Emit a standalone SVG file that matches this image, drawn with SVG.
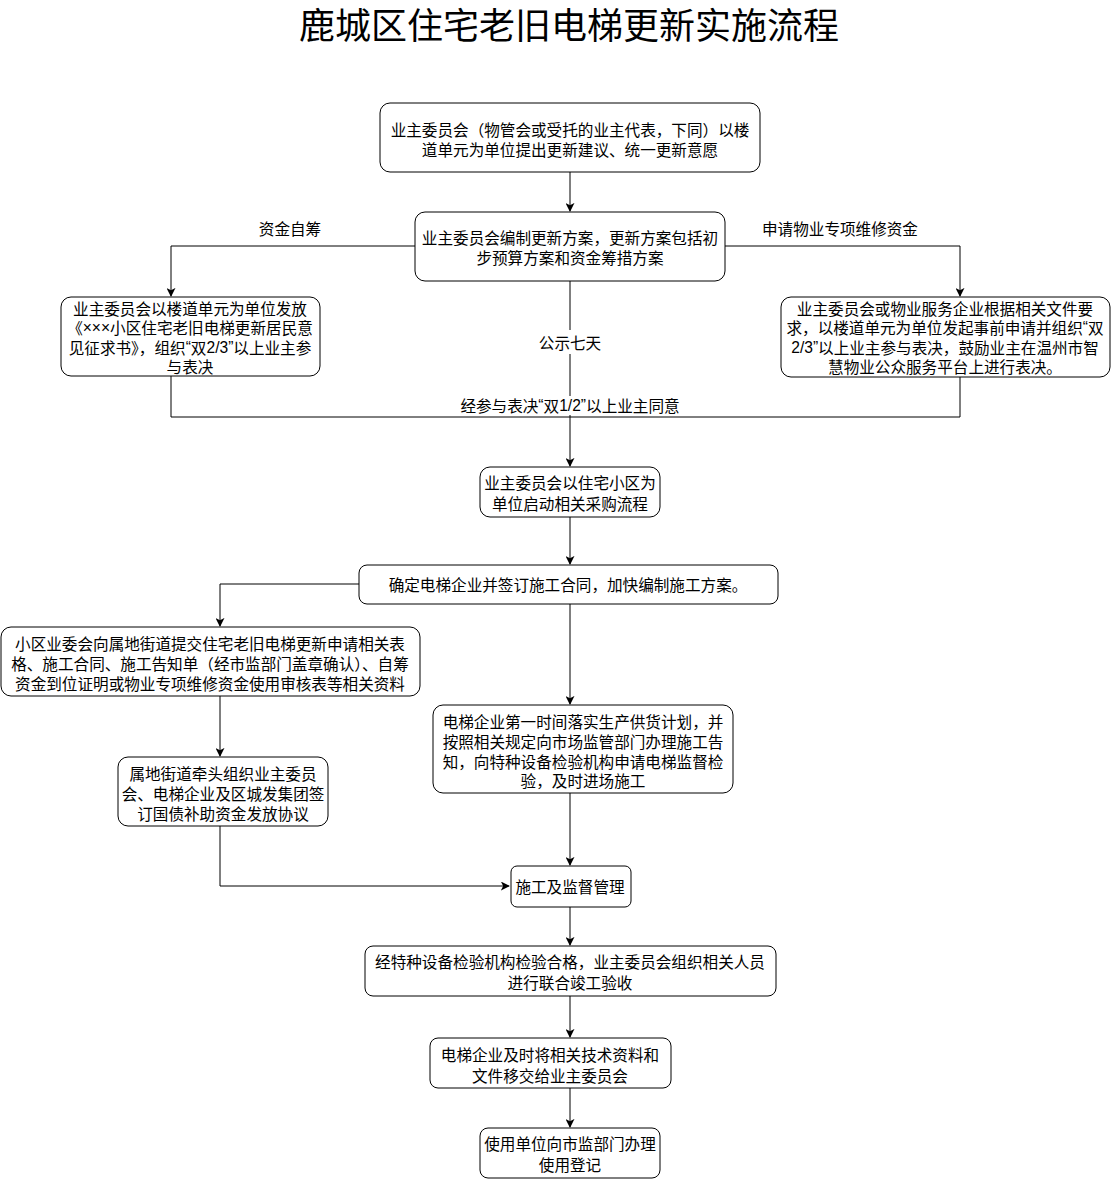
<svg xmlns="http://www.w3.org/2000/svg" width="1111" height="1179" viewBox="0 0 1111 1179">
<defs>
<style>
.box{fill:#fff;stroke:#000;stroke-width:1}
.t{font-family:"Microsoft YaHei","Noto Sans CJK SC",sans-serif;font-size:15.6px;fill:#000;text-anchor:middle;dominant-baseline:central}
.n{font-family:"Liberation Sans",sans-serif}
.title{font-family:"Noto Sans CJK SC",sans-serif;font-size:36px;fill:#000;text-anchor:middle;dominant-baseline:central}
.c{fill:none;stroke:#000;stroke-width:1}
</style>
<marker id="a" viewBox="0 0 10 10" refX="9" refY="5" markerWidth="9" markerHeight="9" markerUnits="userSpaceOnUse" orient="auto">
<path d="M0,0 L10,5 L0,10 L2.5,5 z" fill="#000"/>
</marker>
</defs>
<rect width="1111" height="1179" fill="#fff"/>
<text class="title" x="569" y="23">鹿城区住宅老旧电梯更新实施流程</text>

<g id="connectors">
<path class="c" d="M570,172 V211" marker-end="url(#a)"/>
<path class="c" d="M415,246 H171 V296" marker-end="url(#a)"/>
<path class="c" d="M725,246 H960 V296" marker-end="url(#a)"/>
<path class="c" d="M570,281 V466" marker-end="url(#a)"/>
<path class="c" d="M171,376 V417 H960 V377"/>
<path class="c" d="M570,517 V564" marker-end="url(#a)"/>
<path class="c" d="M359,584 H220 V626" marker-end="url(#a)"/>
<path class="c" d="M220,696 V756" marker-end="url(#a)"/>
<path class="c" d="M220,826 V886 H509" marker-end="url(#a)"/>
<path class="c" d="M570,604 V704" marker-end="url(#a)"/>
<path class="c" d="M570,793 V865" marker-end="url(#a)"/>
<path class="c" d="M570,907 V945" marker-end="url(#a)"/>
<path class="c" d="M570,996 V1037" marker-end="url(#a)"/>
<path class="c" d="M570,1088 V1127" marker-end="url(#a)"/>
<text class="t" x="290" y="228">资金自筹</text>
<text class="t" x="840" y="228">申请物业专项维修资金</text>
<rect x="533" y="330" width="74" height="24" fill="#fff"/>
<text class="t" x="570" y="342">公示七天</text>
<rect x="455" y="396" width="230" height="19" fill="#fff"/>
<text class="t" x="570" y="405">经参与表决<tspan class="n">“</tspan>双<tspan class="n">1/2”</tspan>以上业主同意</text>
</g>

<g id="n1">
<rect class="box" x="380" y="103" width="380" height="69" rx="10"/>
<text class="t" x="570" y="129">业主委员会（物管会或受托的业主代表，下同）以楼</text>
<text class="t" x="570" y="149">道单元为单位提出更新建议、统一更新意愿</text>
</g>
<g id="n2">
<rect class="box" x="415" y="212" width="310" height="69" rx="10"/>
<text class="t" x="570" y="237">业主委员会编制更新方案，更新方案包括初</text>
<text class="t" x="570" y="257">步预算方案和资金筹措方案</text>
</g>
<g id="n3">
<rect class="box" x="61" y="297" width="259" height="79" rx="10"/>
<text class="t" x="190" y="308">业主委员会以楼道单元为单位发放</text>
<text class="t" x="190" y="327">《<tspan class="n">×××</tspan>小区住宅老旧电梯更新居民意</text>
<text class="t" x="190" y="347">见征求书》，组织<tspan class="n">“</tspan>双<tspan class="n">2/3”</tspan>以上业主参</text>
<text class="t" x="190" y="366">与表决</text>
</g>
<g id="n4">
<rect class="box" x="781" y="297" width="329" height="80" rx="10"/>
<text class="t" x="945" y="308">业主委员会或物业服务企业根据相关文件要</text>
<text class="t" x="945" y="327">求，以楼道单元为单位发起事前申请并组织<tspan class="n">“</tspan>双</text>
<text class="t" x="945" y="347"><tspan class="n">2/3”</tspan>以上业主参与表决，鼓励业主在温州市智</text>
<text class="t" x="945" y="366">慧物业公众服务平台上进行表决。</text>
</g>
<g id="n5">
<rect class="box" x="480" y="467" width="180" height="50" rx="10"/>
<text class="t" x="570" y="482">业主委员会以住宅小区为</text>
<text class="t" x="570" y="503">单位启动相关采购流程</text>
</g>
<g id="n6">
<rect class="box" x="359" y="565" width="419" height="39" rx="8"/>
<text class="t" x="568" y="584">确定电梯企业并签订施工合同，加快编制施工方案。</text>
</g>
<g id="n7">
<rect class="box" x="1" y="627" width="419" height="69" rx="10"/>
<text class="t" x="210" y="643">小区业委会向属地街道提交住宅老旧电梯更新申请相关表</text>
<text class="t" x="210" y="663">格、施工合同、施工告知单（经市监部门盖章确认）、自筹</text>
<text class="t" x="210" y="683">资金到位证明或物业专项维修资金使用审核表等相关资料</text>
</g>
<g id="n8">
<rect class="box" x="118" y="757" width="210" height="69" rx="10"/>
<text class="t" x="223" y="773">属地街道牵头组织业主委员</text>
<text class="t" x="223" y="793">会、电梯企业及区城发集团签</text>
<text class="t" x="223" y="813">订国债补助资金发放协议</text>
</g>
<g id="n9">
<rect class="box" x="433" y="705" width="300" height="88" rx="10"/>
<text class="t" x="583" y="721">电梯企业第一时间落实生产供货计划，并</text>
<text class="t" x="583" y="741">按照相关规定向市场监管部门办理施工告</text>
<text class="t" x="583" y="761">知，向特种设备检验机构申请电梯监督检</text>
<text class="t" x="583" y="780">验，及时进场施工</text>
</g>
<g id="n10">
<rect class="box" x="511" y="866" width="120" height="41" rx="6"/>
<text class="t" x="570" y="886">施工及监督管理</text>
</g>
<g id="n11">
<rect class="box" x="365" y="946" width="411" height="50" rx="8"/>
<text class="t" x="570" y="961">经特种设备检验机构检验合格，业主委员会组织相关人员</text>
<text class="t" x="570" y="982">进行联合竣工验收</text>
</g>
<g id="n12">
<rect class="box" x="430" y="1038" width="241" height="50" rx="8"/>
<text class="t" x="550" y="1054">电梯企业及时将相关技术资料和</text>
<text class="t" x="550" y="1075">文件移交给业主委员会</text>
</g>
<g id="n13">
<rect class="box" x="480" y="1128" width="180" height="50" rx="8"/>
<text class="t" x="570" y="1143">使用单位向市监部门办理</text>
<text class="t" x="570" y="1164">使用登记</text>
</g>
</svg>
